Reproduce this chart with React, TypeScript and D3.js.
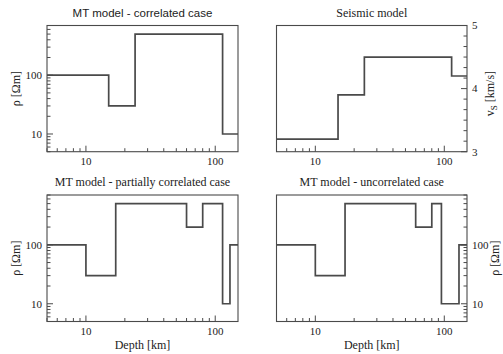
import React from "react";
import * as d3 from "d3";

// Layer boundaries (depth, km) and layer values for each model
const depthDomain: [number, number] = [5, 150];
const rhoDomain: [number, number] = [5, 700];
const vsDomain: [number, number] = [3, 5];

const corrDepths = [5, 15, 24, 114, 150];
const corrRho = [100, 30, 500, 10];

const seisDepths = [5, 15, 24, 114, 150];
const seisVs = [3.2, 3.9, 4.5, 4.2];

const partDepths = [5, 10, 17, 60, 80, 114, 130, 150];
const partRho = [100, 30, 500, 200, 500, 10, 100];

const uncorrDepths = [5, 10, 17, 60, 80, 95, 130, 150];
const uncorrRho = [100, 30, 500, 200, 500, 10, 100];

const xTickLabels = [10, 100];
const rhoTickLabels = [10, 100];
const vsTickLabels = [3, 4, 5];

const W = 503;
const H = 354;
const SERIF = "'Liberation Serif', 'DejaVu Serif', serif";
const SANS = "'Liberation Sans', Arial, sans-serif";
const LINE = "#4a4a4a";
const TEXT = "#222";

type PanelProps = {
  x0: number;
  x1: number;
  y0: number;
  y1: number;
  title: string;
  titleFont: string;
  depths: number[];
  values: number[];
  yKind: "log" | "linear";
  ySide: "left" | "right";
  yLabel: React.ReactNode;
  yLabelOffset: number;
  yLabelShift?: number;
  xLabel?: string;
};

function Panel(p: PanelProps) {
  const x = d3.scaleLog().domain(depthDomain).range([p.x0, p.x1]);
  const y =
    p.yKind === "log"
      ? d3.scaleLog().domain(rhoDomain).range([p.y1, p.y0])
      : d3.scaleLinear().domain(vsDomain).range([p.y1, p.y0]);

  // step outline through each layer
  const pts: [number, number][] = [];
  p.values.forEach((v, i) => {
    pts.push([p.depths[i], v]);
    pts.push([p.depths[i + 1], v]);
  });
  const line = d3
    .line<[number, number]>()
    .x((d) => x(d[0]))
    .y((d) => y(d[1]));

  const xTicks = x.ticks().filter((t) => t >= depthDomain[0] && t <= depthDomain[1]);
  const isPow10 = (t: number) => Math.abs(Math.log10(t) - Math.round(Math.log10(t))) < 1e-9;

  let yMinor: number[] = [];
  let yMajor: number[] = [];
  let yLabels: number[] = [];
  if (p.yKind === "log") {
    const all = (y as d3.ScaleLogarithmic<number, number>).ticks();
    yMajor = all.filter(isPow10);
    yMinor = all.filter((t) => !isPow10(t));
    yLabels = rhoTickLabels;
  } else {
    yMajor = vsTickLabels;
    yMinor = d3
      .range(0, 13)
      .map((i) => vsDomain[0] + i / 6)
      .filter((t) => !vsTickLabels.some((m) => Math.abs(m - t) < 1e-6));
    yLabels = vsTickLabels;
  }

  const MAJ = 6;
  const MIN = 3.5;
  const axisX = p.ySide === "left" ? p.x0 : p.x1;
  const dir = p.ySide === "left" ? 1 : -1;
  const cx = (p.x0 + p.x1) / 2;
  const cy = (p.y0 + p.y1) / 2 + (p.yLabelShift || 0);

  return (
    <g>
      <text x={cx} y={p.y0 - 9} textAnchor="middle" fontFamily={p.titleFont} fontSize={p.titleFont === SANS ? 11.5 : 12} fill={TEXT}>
        {p.title}
      </text>
      <path d={line(pts) || ""} fill="none" stroke={LINE} strokeWidth={1.7} />
      <rect x={p.x0} y={p.y0} width={p.x1 - p.x0} height={p.y1 - p.y0} fill="none" stroke={LINE} strokeWidth={1.1} />
      {xTicks.map((t) => (
        <line key={"xt" + t} x1={x(t)} x2={x(t)} y1={p.y1} y2={p.y1 - (isPow10(t) ? MAJ : MIN)} stroke={LINE} strokeWidth={1} />
      ))}
      {xTickLabels.map((t) => (
        <text key={"xl" + t} x={x(t)} y={p.y1 + 13} textAnchor="middle" fontFamily={SERIF} fontSize={11} fill={TEXT}>
          {t}
        </text>
      ))}
      {yMajor.map((t) => (
        <line key={"yM" + t} x1={axisX} x2={axisX + dir * MAJ} y1={y(t)} y2={y(t)} stroke={LINE} strokeWidth={1} />
      ))}
      {yMinor.map((t) => (
        <line key={"ym" + t} x1={axisX} x2={axisX + dir * MIN} y1={y(t)} y2={y(t)} stroke={LINE} strokeWidth={1} />
      ))}
      {yLabels.map((t) => (
        <text
          key={"yl" + t}
          x={axisX - dir * 5}
          y={y(t)}
          dy="0.35em"
          textAnchor={p.ySide === "left" ? "end" : "start"}
          fontFamily={SERIF}
          fontSize={11}
          fill={TEXT}
        >
          {t}
        </text>
      ))}
      <text
        transform={`translate(${axisX - dir * p.yLabelOffset},${cy}) rotate(-90)`}
        textAnchor="middle"
        dy="0.35em"
        fontFamily={SERIF}
        fontSize={12}
        fill={TEXT}
      >
        {p.yLabel}
      </text>
      {p.xLabel && (
        <text x={cx} y={p.y1 + 27} textAnchor="middle" fontFamily={SERIF} fontSize={12} fill={TEXT}>
          {p.xLabel}
        </text>
      )}
    </g>
  );
}

export default function App() {
  const rhoLabel = "ρ [Ωm]";
  const vsLabel = (
    <>
      <tspan>v</tspan>
      <tspan fontSize={9} dy="3">S</tspan>
      <tspan dy="-3"> [km/s]</tspan>
    </>
  );
  const L = [47, 238];
  const R = [276.5, 467];
  const T = [25.5, 151.7];
  const B = [195, 321.5];
  return (
    <svg width={W} height={H} style={{ position: "absolute", left: 0, top: 0, background: "#fff" }}>
      <Panel x0={L[0]} x1={L[1]} y0={T[0]} y1={T[1]} title="MT model - correlated case" titleFont={SANS}
        depths={corrDepths} values={corrRho} yKind="log" ySide="left" yLabel={rhoLabel} yLabelOffset={31} />
      <Panel x0={R[0]} x1={R[1]} y0={T[0]} y1={T[1]} title="Seismic model" titleFont={SERIF}
        depths={seisDepths} values={seisVs} yKind="linear" ySide="right" yLabel={vsLabel} yLabelOffset={23} yLabelShift={5} />
      <Panel x0={L[0]} x1={L[1]} y0={B[0]} y1={B[1]} title="MT model - partially correlated case" titleFont={SERIF}
        depths={partDepths} values={partRho} yKind="log" ySide="left" yLabel={rhoLabel} yLabelOffset={31} xLabel="Depth [km]" />
      <Panel x0={R[0]} x1={R[1]} y0={B[0]} y1={B[1]} title="MT model - uncorrelated case" titleFont={SERIF}
        depths={uncorrDepths} values={uncorrRho} yKind="log" ySide="right" yLabel={rhoLabel} yLabelOffset={28} xLabel="Depth [km]" />
    </svg>
  );
}
